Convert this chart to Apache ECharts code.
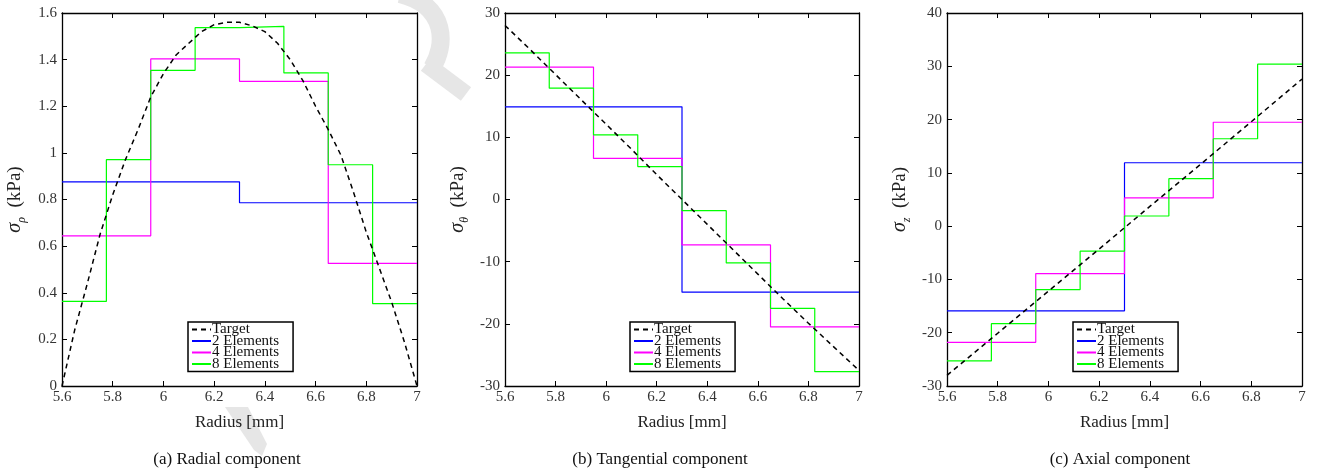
<!DOCTYPE html>
<html>
<head>
<meta charset="utf-8">
<script src="https://cdn.jsdelivr.net/npm/echarts@6/dist/echarts.min.js"></script>
<style>
  html, body { margin: 0; padding: 0; background: #fff; }
  #chart { width: 1325px; height: 476px; }
</style>
</head>
<body>
<div id="chart"></div>
<script>
// ---- data -------------------------------------------------------------
// element edges along the radius [mm]
const edges2 = [5.6, 6.3, 7.0];
const edges4 = [5.6, 5.95, 6.3, 6.65, 7.0];
const edges8 = [5.6, 5.775, 5.95, 6.125, 6.3, 6.475, 6.65, 6.825, 7.0];

// radial stress sigma_rho (kPa)
const radialTargetR = [5.6, 5.65, 5.7, 5.75, 5.8, 5.85, 5.9, 5.95, 6.0, 6.05, 6.1, 6.15, 6.2, 6.25, 6.3, 6.35,
                       6.4, 6.45, 6.5, 6.55, 6.6, 6.65, 6.7, 6.75, 6.8, 6.85, 6.9, 6.95, 7.0];
const radialTarget  = [0.00, 0.24, 0.44, 0.65, 0.82, 0.97, 1.10, 1.24, 1.34, 1.42, 1.47, 1.52, 1.55, 1.56, 1.56, 1.545,
                       1.52, 1.47, 1.40, 1.31, 1.20, 1.10, 0.99, 0.83, 0.66, 0.51, 0.36, 0.19, 0.00];
const radial2 = [0.876, 0.786];
const radial4 = [0.644, 1.403, 1.307, 0.526];
const radial8 = [0.363, 0.971, 1.354, 1.537, 1.543, 1.343, 0.949, 0.353];

// tangential stress sigma_theta (kPa)
const tangTargetR = [5.6, 5.7, 5.8, 5.9, 6.0, 6.1, 6.2, 6.3, 6.4, 6.5, 6.6, 6.7, 6.8, 6.9, 7.0];
const tangTarget  = [28.0, 24.1, 20.1, 16.1, 12.1, 8.1, 4.0, 0.0, -4.0, -8.0, -12.0, -16.0, -19.9, -23.7, -27.5];
const tang2 = [14.9, -14.9];
const tang4 = [21.3, 6.6, -7.3, -20.5];
const tang8 = [23.6, 17.9, 10.4, 5.3, -1.8, -10.2, -17.5, -27.7];

// axial stress sigma_z (kPa)
const axialTargetR = [5.6, 5.8, 6.0, 6.2, 6.4, 6.6, 6.8, 7.0];
const axialTarget  = [-28.0, -20.1, -12.2, -4.3, 3.7, 11.6, 19.6, 27.6];
const axial2 = [-15.9, 11.9];
const axial4 = [-21.8, -8.9, 5.3, 19.5];
const axial8 = [-25.3, -18.3, -11.9, -4.7, 1.9, 8.9, 16.4, 30.4];

const seriesNames = ['Target', '2 Elements', '4 Elements', '8 Elements'];
const captions = ['(a) Radial component', '(b) Tangential component', '(c) Axial component'];
const yLetters = ['ρ', 'θ', 'z'];
const yRanges = [[0, 1.6, 0.2], [-30, 30, 10], [-30, 40, 10]];
const xRange = [5.6, 7.0, 0.2];
const xTitle = 'Radius [mm]';

// ---- layout & style ---------------------------------------------------
const SERIF = '"Liberation Serif", "DejaVu Serif", serif';
const layout = [
  { left: 62,  width: 355, caption: 222,  legend: 188 },
  { left: 505, width: 354, caption: 655,  legend: 630 },
  { left: 947, width: 355, caption: 1115, legend: 1073 }
];
const TOP = 13, HEIGHT = 373;
const colors = { target: '#000000', e2: '#0000ff', e4: '#ff00ff', e8: '#00ff00' };

const panelData = [
  { tr: radialTargetR, tv: radialTarget, s2: radial2, s4: radial4, s8: radial8 },
  { tr: tangTargetR,   tv: tangTarget,   s2: tang2,   s4: tang4,   s8: tang8 },
  { tr: axialTargetR,  tv: axialTarget,  s2: axial2,  s4: axial4,  s8: axial8 }
];

const fmt = v => String(+v.toFixed(2));

function stepPoints(edges, values) {
  return edges.map((r, i) => [r, values[Math.min(i, values.length - 1)]]);
}

const grid = [], xAxis = [], yAxis = [], series = [], legend = [], title = [];

layout.forEach((L, p) => {
  grid.push({ left: L.left, top: TOP, width: L.width, height: HEIGHT,
              show: true, backgroundColor: '#fff', borderWidth: 0 });

  const axisLine = { show: true, onZero: false, lineStyle: { color: '#000', width: 1.3 } };
  const tick = { show: true, inside: true, length: 5, lineStyle: { color: '#000', width: 1 } };
  const label = { color: '#333', fontFamily: SERIF, fontSize: 15, formatter: fmt };

  xAxis.push({ type: 'value', gridIndex: p, position: 'bottom', min: xRange[0], max: xRange[1], interval: xRange[2],
               axisLine, axisTick: tick, splitLine: { show: false },
               axisLabel: Object.assign({ margin: 4 }, label),
               name: xTitle, nameLocation: 'middle', nameGap: 28,
               nameTextStyle: { fontFamily: SERIF, fontSize: 17, color: '#222' } });
  xAxis.push({ type: 'value', gridIndex: p, position: 'top', min: xRange[0], max: xRange[1], interval: xRange[2],
               axisLine, axisTick: tick, splitLine: { show: false }, axisLabel: { show: false } });

  const yr = yRanges[p];
  yAxis.push({ type: 'value', gridIndex: p, position: 'left', min: yr[0], max: yr[1], interval: yr[2],
               axisLine, axisTick: tick, splitLine: { show: false },
               axisLabel: Object.assign({ margin: 5 }, label),
               name: '{s|σ}{sub|' + yLetters[p] + '}{t|  (kPa)}', nameLocation: 'middle', nameGap: 34, nameRotate: 90,
               nameTextStyle: {
                 fontFamily: SERIF, fontSize: 18, color: '#222',
                 rich: {
                   s:   { fontFamily: SERIF, fontStyle: 'italic', fontSize: 20, lineHeight: 26, verticalAlign: 'middle', color: '#222' },
                   sub: { fontFamily: SERIF, fontStyle: 'italic', fontSize: 12, lineHeight: 14, verticalAlign: 'bottom', color: '#222' },
                   t:   { fontFamily: SERIF, fontSize: 19, lineHeight: 26, verticalAlign: 'middle', color: '#222' }
                 }
               } });
  yAxis.push({ type: 'value', gridIndex: p, position: 'right', min: yr[0], max: yr[1], interval: yr[2],
               axisLine, axisTick: tick, splitLine: { show: false }, axisLabel: { show: false } });

  const d = panelData[p];
  const base = { type: 'line', xAxisIndex: 2 * p, yAxisIndex: 2 * p, symbol: 'none', silent: true, animation: false };
  series.push(Object.assign({}, base, { name: seriesNames[1], step: 'end', z: 2,
    data: stepPoints(edges2, d.s2), lineStyle: { color: colors.e2, width: 1.2 }, itemStyle: { color: colors.e2 } }));
  series.push(Object.assign({}, base, { name: seriesNames[2], step: 'end', z: 3,
    data: stepPoints(edges4, d.s4), lineStyle: { color: colors.e4, width: 1.2 }, itemStyle: { color: colors.e4 } }));
  series.push(Object.assign({}, base, { name: seriesNames[3], step: 'end', z: 4,
    data: stepPoints(edges8, d.s8), lineStyle: { color: colors.e8, width: 1.2 }, itemStyle: { color: colors.e8 } }));
  series.push(Object.assign({}, base, { name: seriesNames[0], z: 5, smooth: false,
    data: d.tr.map((r, i) => [r, d.tv[i]]),
    lineStyle: { color: colors.target, width: 1.5, type: [5, 4] }, itemStyle: { color: colors.target } }));

  legend.push({ data: seriesNames, left: L.legend, top: 322, orient: 'vertical',
                itemWidth: 19, itemHeight: 8, itemGap: -3.5, padding: [0, 14, 0, 3],
                itemStyle: { opacity: 0, borderWidth: 0 },
                borderColor: '#000', borderWidth: 1.5, backgroundColor: '#fff', selectedMode: false,
                textStyle: { fontFamily: SERIF, fontSize: 15, lineHeight: 12, color: '#111', padding: [0, 0, 0, -4] } });

  title.push({ text: captions[p], left: L.caption, top: 446, textAlign: 'center',
               textStyle: { fontFamily: SERIF, fontSize: 17, fontWeight: 'normal', color: '#111' } });
});

// faint grey marks behind the figure
const graphic = [
  { type: 'bezierCurve', z: -10, silent: true,
    shape: { x1: 400, y1: -6, x2: 432, y2: 68, cpx1: 448, cpy1: 6, cpx2: 446, cpy2: 46 },
    style: { stroke: '#e6e6e6', lineWidth: 18, fill: null } },
  { type: 'line', z: -10, silent: true, shape: { x1: 426, y1: 64, x2: 466, y2: 94 },
    style: { stroke: '#e6e6e6', lineWidth: 17 } },
  { type: 'polygon', z: -10, silent: true,
    shape: { points: [[225, 407], [248, 407], [267, 444], [262, 456], [254, 450]] },
    style: { fill: '#e6e6e6' } }
];

const chart = echarts.init(document.getElementById('chart'), null, { renderer: 'canvas' });
chart.setOption({ animation: false, backgroundColor: '#fff', grid, xAxis, yAxis, series, legend, title, graphic });
</script>
</body>
</html>
